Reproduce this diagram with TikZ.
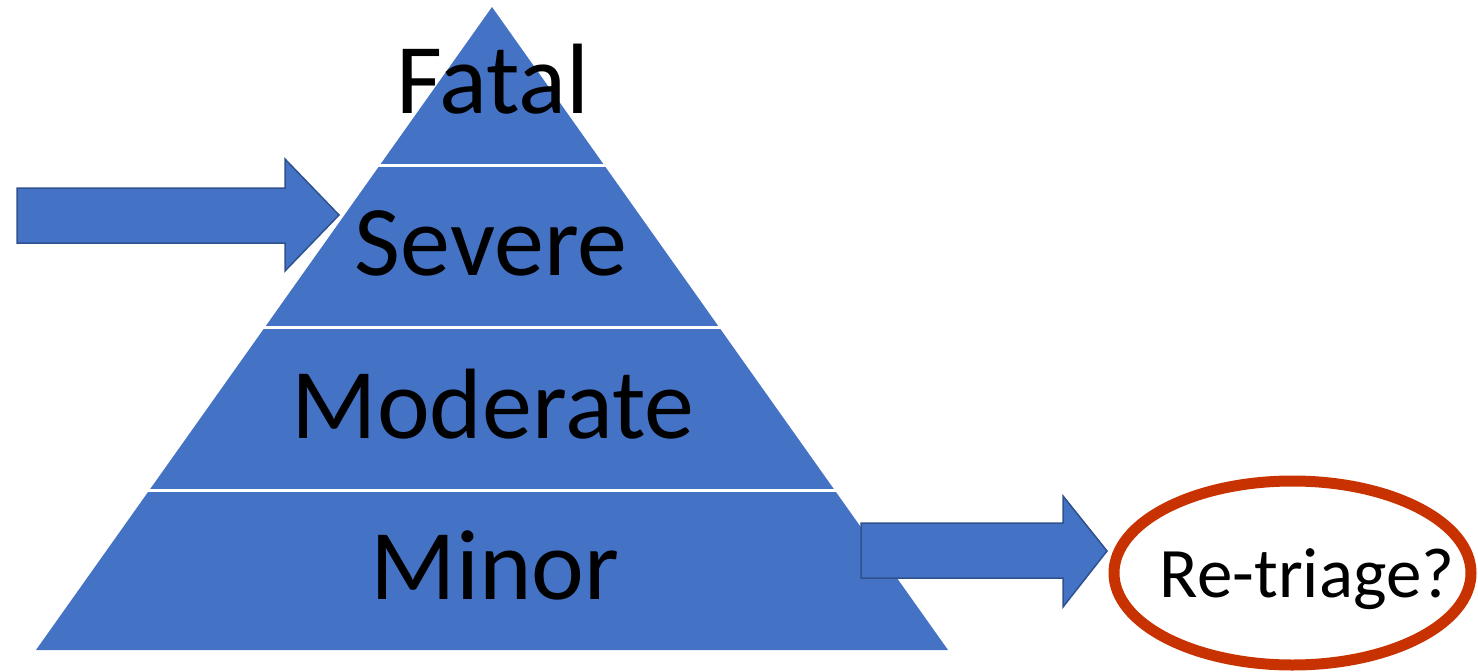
\documentclass[tikz,border=0pt]{standalone}
\usepackage{fontspec}
\setmainfont{Carlito}
\usetikzlibrary{shapes.geometric}
\definecolor{pyrblue}{HTML}{4472C4}
\definecolor{arrline}{HTML}{2F528F}
\definecolor{ringred}{RGB}{200,50,0}
\tikzset{
  pyramid/.style={fill=pyrblue},
  gapline/.style={draw=white, line width=3pt},
  bigtext/.style={anchor=base, inner sep=0pt, font=\fontsize{100}{100}\selectfont, text=black},
  smalltext/.style={anchor=base, inner sep=0pt, font=\fontsize{71}{71}\selectfont, text=black},
  blockarrow/.style={fill=pyrblue, draw=arrline, line width=1.5pt, line join=miter},
  ring/.style={ellipse, draw=ringred, line width=11pt, minimum width=357pt, minimum height=184pt, inner sep=0pt}
}
\begin{document}
\begin{tikzpicture}[x=1pt,y=-1pt]
\useasboundingbox (0,0) rectangle (1478,672);
% pyramid (apex 492,7; base 36..948 at y=650)
\path[pyramid] (492,7) -- (948,650) -- (36,650) -- cycle;
\draw[gapline] (370,165) -- (614,165);
\draw[gapline] (255,327) -- (729,327);
\draw[gapline] (140,490) -- (844,490);
% labels
\node[bigtext] (fatal) at (493,113) {Fatal};
\node[bigtext] (severe) at (491,275) {Severe};
\node[bigtext] (moderate) at (493,438) {Moderate};
\node[bigtext] (minor) at (495,599) {Minor};
% left block arrow
\path[blockarrow] (17,188) -- (285,188) -- (285,159) -- (339,215) -- (285,271) -- (285,243) -- (17,243) -- cycle;
% right block arrow
\path[blockarrow] (861,523) -- (1063,523) -- (1063,496) -- (1107,551) -- (1063,607) -- (1063,578) -- (861,578) -- cycle;
% ellipse
\node[ring] (retriage) at (1292.5,573) {};
\node[smalltext] (retriagetext) at (1307,597) {Re-triage?};
\end{tikzpicture}
\end{document}
